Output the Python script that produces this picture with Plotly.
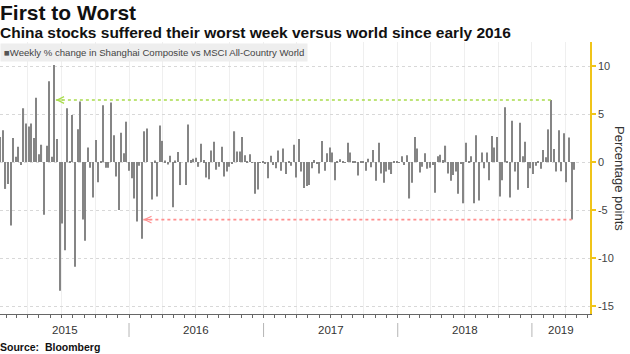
import plotly.graph_objects as go
import pandas as pd

# Weekly % change in Shanghai Composite vs MSCI All-Country World (percentage points)
values = [
    2.6, 3.3, -2.8, -2.3, -6.6, 2.5, 0.55, 1.6, -0.3, 5.6,
    4.0, 3.7, 4.0, 2.5, 6.7, 0.8, 1.8, -5.5, 1.7, 8.4,
    0.55, 10.1, 2.4, -13.4, -6.4, -9.2, 5.6, 0.1, 4.9, -10.9,
    3.4, 6.3, -6.0, -8.2, 1.5, -0.6, -3.7, 2.3, -2.1, 0.05,
    5.9, -0.6, -0.6, 6.2, 2.8, -1.5, -5.0,
    3.05, 0.9, 4.2, -0.9, -1.7, -3.8, -6.2, -0.4, -8.0,
    3.2, 3.5, 0.0, -3.9, 0.15, -3.6, 3.8, 2.2, 0.15, -0.25,
    0.65, -4.7, 0.15, 1.05, -2.4, 0.0, -2.4, 3.9, 0.2, 0.35,
    0.45, -0.5, 1.9, 0.2, -1.6, -1.8,
    1.2, 2.1, -0.8, -0.5, 1.6, -1.5, -1.0, -0.5, -0.2, 3.2, 1.1,
    1.1, 2.6, 0.7, 0.1, 0.8, -0.1, -3.3, -2.85, -0.1, 0.1,
    -0.2, -1.7, 0.65, -0.3, -0.65, 1.2, -0.9, 1.4, -1.25, 0.05,
    -0.4, 1.8, -1.6, 2.4, -1.0, -2.7, -2.5, -2.4, -0.65, 0.2,
    -0.2, -1.2, 2.2, -0.9, 0.9, 1.5, 1.0, -1.9, 0.05, 0.3,
    0.05, -0.05, 2.0, 1.0, 0.05, 0.05, -1.4,
    0.1, 0.1, -0.9, 0.35, -0.55, 1.25, -1.95, 2.0, -1.2, -2.15,
    -1.0, -0.8, -1.25, 0.1, 0.05, -0.05, 0.6, -0.3, 0.7,
    -3.8, -2.15, 2.6, 1.4, -1.1, -0.5, 0.9, -0.7, -0.6, -0.3,
    -3.2, 0.6, 0.75, 0.2, 1.7, -1.2, -1.95, -1.35, -1.0, -3.3,
    -0.15, -4.3, 2.0, 0.05, 0.6, -4.3, 2.8, -4.0, 1.0, -0.65,
    1.0, -1.9, 2.7, 1.5, 2.6, -3.6, -1.9, 5.7, 0.05, -3.7,
    4.3, -1.0, -2.9, 4.1, 0.6, 2.1, -2.7, -0.65, -1.25, -0.4,
    0.05, -0.7, 1.25, 0.5, 3.4, 6.46, 1.35, -1.0, 3.3, -0.95,
    3.0, -2.1, 2.55, -6.0, -0.8,
]
dates = pd.date_range("2015-01-16", periods=len(values), freq="W-FRI")

year_labels = ["2015", "2016", "2017", "2018", "2019"]
y_ticks = [-15, -10, -5, 0, 5, 10]

title = "First to Worst"
subtitle = "China stocks suffered their worst week versus world since early 2016"
legend_text = "Weekly % change in Shanghai Composite vs MSCI All-Country World"
y_title = "Percentage points"
source = "Source:\u00a0 Bloomberg"

# highlighted weeks
best_recent, best_prior = 214, 21
worst_recent, worst_prior = 222, 55

x_start = pd.Timestamp("2015-01-15")
x_end = pd.Timestamp("2019-06-08")
y_range = [-15.83, 12.5]

PLOT_TOP, PLOT_BOTTOM = 42, 314
PLOT_H = PLOT_BOTTOM - PLOT_TOP
PLOT_W = 590


def py(pix):
    return (PLOT_BOTTOM - pix) / PLOT_H


BAR = "#858585"
YELLOW = "#f0c419"
GREEN = "#a9dc4c"
RED = "#ff8f8f"
FONT = "Liberation Sans"

fig = go.Figure()
fig.add_trace(go.Bar(
    x=dates, y=values, marker=dict(color=BAR, line=dict(width=0)),
    width=3 * 86400000, showlegend=False, hoverinfo="x+y",
))

shapes = []
annotations = []

# reference lines with arrowheads
for recent, prior, color in [(best_recent, best_prior, GREEN), (worst_recent, worst_prior, RED)]:
    level = values[recent]
    tip = dates[prior] + pd.Timedelta(days=4)
    shapes.append(dict(type="line", xref="x", yref="y", x0=tip, x1=dates[recent],
                       y0=level, y1=level, line=dict(color=color, width=1.6, dash="dot")))
    annotations.append(dict(x=tip, y=level, xref="x", yref="y", ax=9, ay=0, text="",
                            showarrow=True, arrowhead=5, arrowsize=1.1, arrowwidth=1.2,
                            arrowcolor=color, standoff=0))

# year separators and labels
years = [int(y) for y in year_labels]
for y in years[1:]:
    shapes.append(dict(type="line", xref="x", yref="paper", x0=pd.Timestamp(f"{y}-01-01"),
                       x1=pd.Timestamp(f"{y}-01-01"), y0=py(323), y1=py(337),
                       line=dict(color="#b5b5b5", width=1)))
for lbl, y in zip(year_labels, years):
    a = max(pd.Timestamp(f"{y}-01-01"), x_start)
    b = min(pd.Timestamp(f"{y + 1}-01-01"), x_end)
    mid = a + (b - a) / 2
    annotations.append(dict(x=mid, y=py(330), xref="x", yref="paper", text=lbl, showarrow=False,
                            font=dict(family=FONT, size=11.5, color="#333"), yanchor="middle"))

annotations += [
    dict(x=0, y=py(13), xref="paper", yref="paper", text=f"<b>{title}</b>", showarrow=False,
         xanchor="left", yanchor="middle", xshift=-2, font=dict(family=FONT, size=21, color="#111")),
    dict(x=0, y=py(33), xref="paper", yref="paper", text=f"<b>{subtitle}</b>", showarrow=False,
         xanchor="left", yanchor="middle", xshift=-2, font=dict(family=FONT, size=15.5, color="#111")),
    dict(x=0, y=py(53), xref="paper", yref="paper",
         text=f'<span style="color:#555">■</span>{legend_text}', showarrow=False,
         xanchor="left", yanchor="middle", bgcolor="#eeeeee", borderpad=3,
         font=dict(family=FONT, size=9.6, color="#444")),
    dict(x=620 / PLOT_W, y=0.5, xref="paper", yref="paper", text=y_title, showarrow=False,
         textangle=90, xanchor="center", yanchor="middle",
         font=dict(family=FONT, size=13, color="#333")),
    dict(x=0, y=py(347), xref="paper", yref="paper", text=f"<b>{source}</b>", showarrow=False,
         xanchor="left", yanchor="middle", xshift=-2, font=dict(family=FONT, size=10.5, color="#111")),
]

fig.update_layout(
    width=630, height=354,
    margin=dict(l=0, r=630 - PLOT_W, t=PLOT_TOP, b=354 - PLOT_BOTTOM),
    plot_bgcolor="white", paper_bgcolor="white",
    showlegend=False,
    shapes=shapes, annotations=annotations,
    xaxis=dict(type="date", range=[x_start, x_end], showgrid=True, gridcolor="#efefef",
               gridwidth=1, dtick="M3", tick0="2015-01-01", ticks="outside", ticklen=3,
               tickcolor="#666", showticklabels=False, showline=True, linecolor="#666",
               linewidth=1, zeroline=False,
               minor=dict(dtick="M1", tick0="2015-01-01", ticks="outside", ticklen=3,
                          tickcolor="#666", showgrid=False)),
    yaxis=dict(side="right", range=y_range, tickvals=y_ticks,
               ticktext=[str(v) for v in y_ticks], showgrid=True, gridcolor="#d8d8d8",
               griddash="dot", zeroline=False, showline=True, linecolor=YELLOW, linewidth=1.5,
               ticks="outside", ticklen=4, tickcolor=YELLOW, tickwidth=1.5,
               tickfont=dict(family=FONT, size=11, color="#444")),
)

fig.write_html("out.html")
